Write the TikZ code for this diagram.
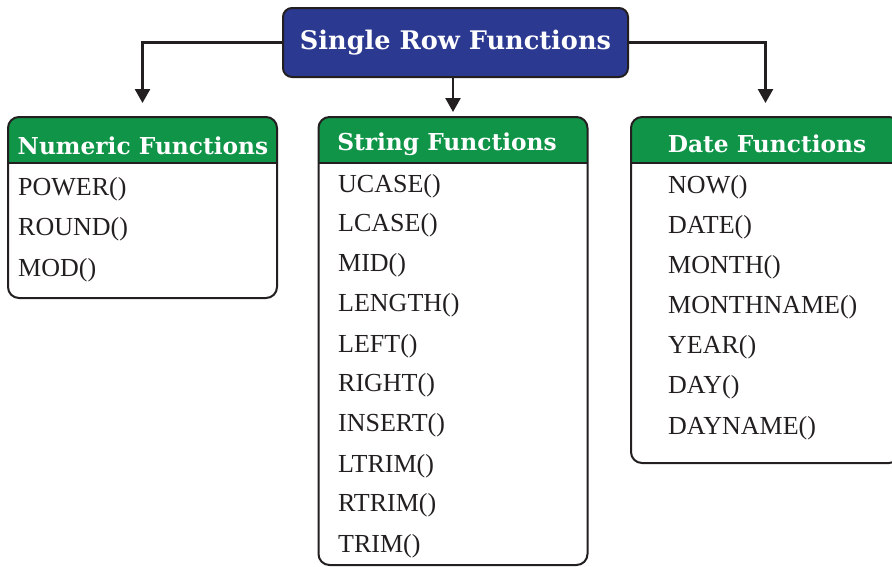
\documentclass[tikz,border=0pt]{standalone}
\usepackage{fontspec}
\setmainfont{Liberation Serif}
\newfontfamily\hdfont{DejaVu Serif}
\usetikzlibrary{arrows.meta}
\definecolor{srfblue}{RGB}{43,57,144}
\definecolor{hdgreen}{RGB}{16,148,72}
\definecolor{ink}{RGB}{35,31,32}

\begin{document}
\begin{tikzpicture}[x=1pt,y=-1pt,
        listbox/.style={draw=ink,line width=2pt,rounded corners=11pt,minimum width=269pt,inner sep=0pt},
        hd/.style={text=white,font=\hdfont\bfseries\fontsize{23.3}{26}\selectfont,anchor=base,inner sep=0pt},
        item/.style={text=ink,font=\fontsize{26}{30}\selectfont,anchor=base west,inner sep=0pt},
        arr/.style={draw=ink,line width=2.5pt,-{Triangle[width=15pt,length=14pt]}}]
                \useasboundingbox (0,0) rectangle (892,566);
                \node[draw=ink,fill=srfblue,line width=2pt,rounded corners=9pt,minimum width=345pt,minimum height=69pt,inner sep=0pt,text=white,font=\hdfont\bfseries\fontsize{25.6}{28}\selectfont] (srf) at (455.5,42.5) {Single Row Functions};
                \fill[hdgreen] (8,163) [rounded corners=11pt] -- (8,117) -- (277,117) [sharp corners] -- (277,163) -- cycle;
                \fill[hdgreen] (318.5,163) [rounded corners=11pt] -- (318.5,117) -- (587.5,117) [sharp corners] -- (587.5,163) -- cycle;
                \fill[hdgreen] (631,163) [rounded corners=11pt] -- (631,117) -- (900,117) [sharp corners] -- (900,163) -- cycle;
                \node[listbox,minimum height=181pt] (numbox) at (142.5,207.5) {};
                \node[listbox,minimum height=448pt] (strbox) at (453,341) {};
                \node[listbox,minimum height=346pt] (datebox) at (765.5,290) {};
                \draw[ink,line width=2pt] (8,163) -- (277,163);
                \draw[ink,line width=2pt] (318.5,163) -- (587.5,163);
                \draw[ink,line width=2pt] (631,163) -- (900,163);
                \node[hd] (numhd) at (143,154) {Numeric Functions};
                \node[hd] (strhd) at (447,150) {String Functions};
                \node[hd] (datehd) at (767,152) {Date Functions};
                \draw[arr,shorten >=13pt] (srf.west) -| (numbox.north);
                \draw[arr,shorten >=4pt] (srf.south -| strbox.north) -- (strbox.north);
                \draw[arr,shorten >=13pt] (srf.east) -| (datebox.north);
                \node[item] (power) at (18,195) {POWER()};
                \node[item] (round) at (18,235) {ROUND()};
                \node[item] (mod) at (18,276) {MOD()};
                \node[item] (ucase) at (338,192) {UCASE()};
                \node[item] (lcase) at (338,231) {LCASE()};
                \node[item] (mid) at (338,271) {MID()};
                \node[item] (length) at (338,311) {LENGTH()};
                \node[item] (left) at (338,352) {LEFT()};
                \node[item] (right) at (338,391) {RIGHT()};
                \node[item] (insert) at (338,431) {INSERT()};
                \node[item] (ltrim) at (338,472) {LTRIM()};
                \node[item] (rtrim) at (338,511) {RTRIM()};
                \node[item] (trim) at (338,552) {TRIM()};
                \node[item] (now) at (668,193) {NOW()};
                \node[item] (date) at (668,233) {DATE()};
                \node[item] (month) at (668,273) {MONTH()};
                \node[item] (monthname) at (668,313) {MONTHNAME()};
                \node[item] (year) at (668,353) {YEAR()};
                \node[item] (day) at (668,393) {DAY()};
                \node[item] (dayname) at (668,434) {DAYNAME()};
            \end{tikzpicture}
\end{document}
